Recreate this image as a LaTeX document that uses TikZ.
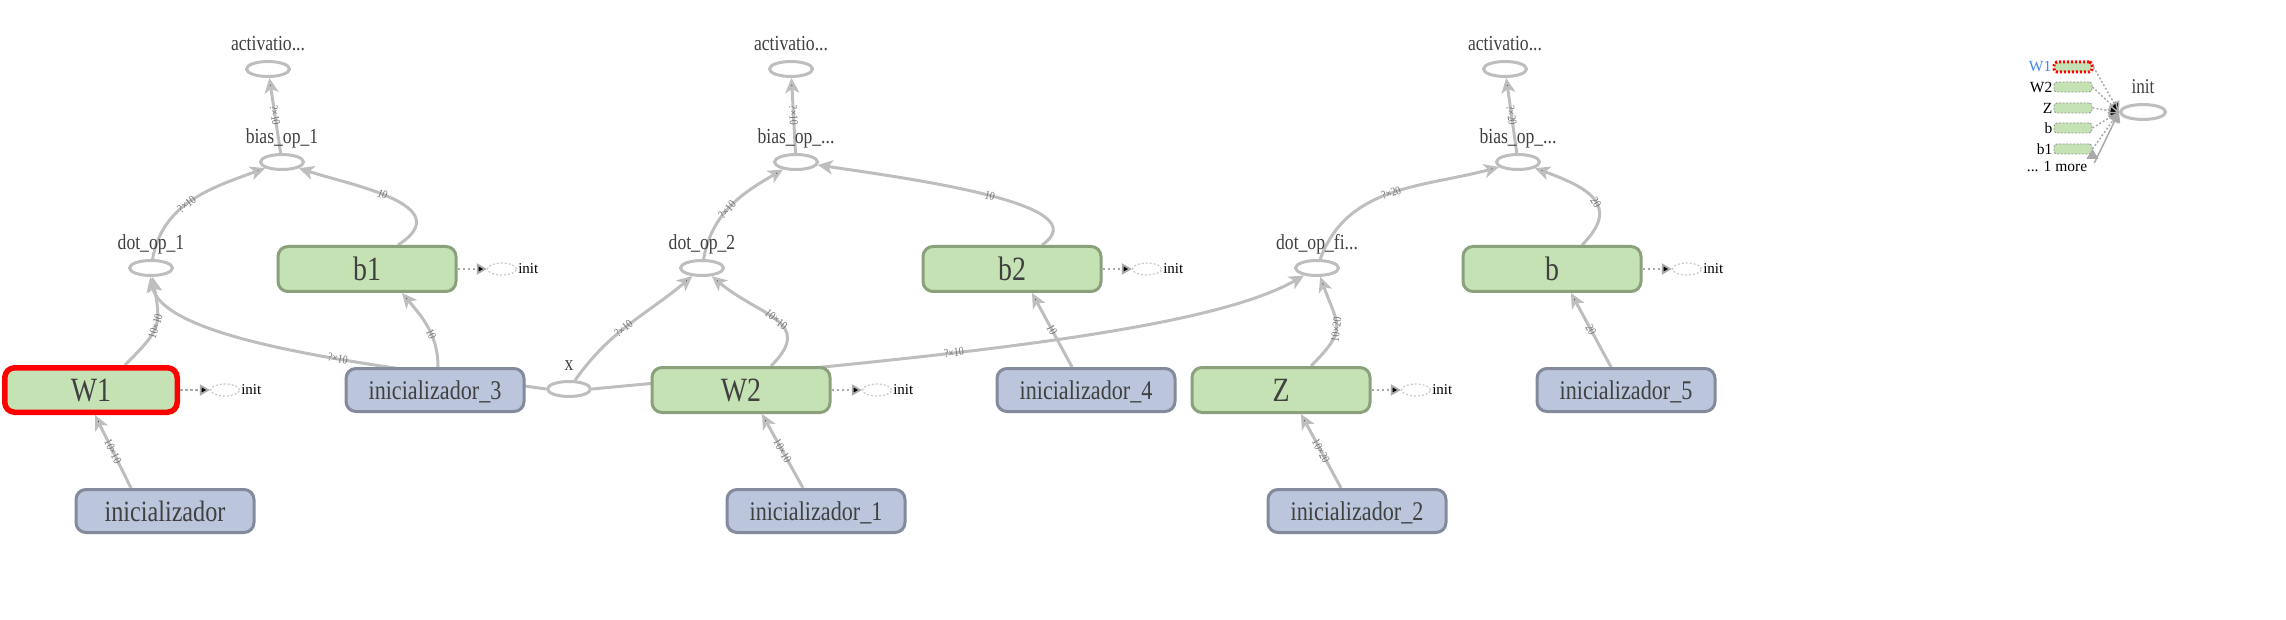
\documentclass[tikz,border=0pt]{standalone}
\usepackage{fontspec}
\setmainfont{Liberation Serif}[FakeStretch=0.82]
\newfontfamily\plainserif{Liberation Serif}
\usetikzlibrary{shapes.geometric,arrows.meta}

\definecolor{edgegray}{RGB}{190,190,190}
\definecolor{txtgray}{RGB}{64,64,64}
\definecolor{varfill}{RGB}{197,226,181}
\definecolor{varline}{RGB}{138,161,124}
\definecolor{inifill}{RGB}{187,198,221}
\definecolor{iniline}{RGB}{130,138,155}
\definecolor{initgray}{RGB}{170,170,170}
\definecolor{dashgray}{RGB}{200,200,200}
\definecolor{legdash}{RGB}{150,150,150}
\definecolor{lblgray}{RGB}{115,115,115}
\definecolor{linkblue}{RGB}{66,133,244}

\pgfdeclarelayer{bg}
\pgfsetlayers{bg,main}

\tikzset{
  opnode/.style={shape=ellipse, draw=edgegray, line width=3pt, fill=white,
    minimum width=43pt, minimum height=15pt, inner sep=0pt, label distance=0pt},
  oplabel/.style={text=txtgray, font=\fontsize{21.5}{21.5}\selectfont, inner sep=1pt, text depth=8pt},
  varnode/.style={shape=rectangle, rounded corners=10pt, draw=varline, fill=varfill, line width=3pt,
    minimum width=178pt, minimum height=45pt, text=txtgray, text depth=0pt,
    font=\fontsize{34}{34}\selectfont},
  ininode/.style={shape=rectangle, rounded corners=10pt, draw=iniline, fill=inifill, line width=3pt,
    minimum width=178pt, minimum height=43pt, text=txtgray, text depth=0pt,
    font=\fontsize{27}{27}\selectfont},
  initnode/.style={shape=ellipse, draw=dashgray, line width=1.2pt, dash pattern=on 2pt off 2pt,
    minimum width=29pt, minimum height=12pt, inner sep=0pt, label distance=3pt},
  initlabel/.style={font=\plainserif\fontsize{15}{15}\selectfont, text=black, inner sep=1pt},
  initlink/.style={draw=initgray, line width=1.8pt, dash pattern=on 2.5pt off 2.5pt,
    -{Triangle[length=10pt,width=11pt]}},
  flow/.style={draw=edgegray, line width=3pt, -{Stealth[length=15pt,width=14pt,inset=4pt]}},
  elabel/.style={sloped, text=lblgray, font=\fontsize{12}{12}\selectfont, inner sep=0pt},
  legbox/.style={shape=rectangle, rounded corners=3pt, fill=varfill, draw=legdash, line width=0.9pt,
    dash pattern=on 2pt off 1.5pt, minimum width=38pt, minimum height=10pt, inner sep=0pt,
    label distance=3pt},
  legtext/.style={font=\plainserif\fontsize{15.5}{15.5}\selectfont, text=black, inner sep=1pt},
  legdot/.style={draw=initgray, line width=1.5pt, dash pattern=on 2pt off 2pt,
    -{Triangle[length=10pt,width=12pt]}},
}

\begin{document}
\begin{tikzpicture}[x=1pt,y=1pt]
\useasboundingbox (0,0) rectangle (2286,-620);

% operations
\node[opnode, label={[oplabel]above:activatio...}] (act1) at (268,-69) {};
\node[opnode, label={[oplabel]above:bias\_op\_1}] (bias1) at (282,-162) {};
\node[opnode, label={[oplabel]above:dot\_op\_1}] (dot1) at (151,-268) {};
\node[opnode, label={[oplabel]above:activatio...}] (act2) at (791,-69) {};
\node[opnode, label={[oplabel]above:bias\_op\_...}] (bias2) at (796,-162) {};
\node[opnode, label={[oplabel]above:dot\_op\_2}] (dot2) at (702,-268) {};
\node[opnode, label={[oplabel]above:activatio...}] (act3) at (1505,-69) {};
\node[opnode, label={[oplabel]above:bias\_op\_...}] (bias3) at (1518,-162) {};
\node[opnode, label={[oplabel]above:dot\_op\_fi...}] (dotfi) at (1317,-268) {};
\node[opnode, label={[oplabel]above:x}] (x) at (569,-389) {};

% variables
\node[varnode] (b1) at (367,-269) {b1};
\node[varnode] (b2) at (1012,-269) {b2};
\node[varnode] (b) at (1552,-269) {b};
\node[varnode, draw=red, line width=5.5pt, minimum width=172.5pt, minimum height=44.5pt] (W1) at (91,-390) {W1};
\node[varnode] (W2) at (741,-390) {W2};
\node[varnode] (Z) at (1281,-390) {Z};

% initializers
\node[ininode, font=\fontsize{29.5}{29.5}\selectfont] (ini) at (165,-511) {inicializador};
\node[ininode] (ini1) at (816,-511) {inicializador\_1};
\node[ininode] (ini2) at (1357,-511) {inicializador\_2};
\node[ininode] (ini3) at (435,-390) {inicializador\_3};
\node[ininode] (ini4) at (1086,-390) {inicializador\_4};
\node[ininode] (ini5) at (1626,-390) {inicializador\_5};

% init stubs
\node[initnode, label={[initlabel]right:init}] (iW1) at (225,-390) {};
\node[initnode, label={[initlabel]right:init}] (ib1) at (502,-269) {};
\node[initnode, label={[initlabel]right:init}] (iW2) at (877,-390) {};
\node[initnode, label={[initlabel]right:init}] (ib2) at (1147,-269) {};
\node[initnode, label={[initlabel]right:init}] (iZ) at (1416,-390) {};
\node[initnode, label={[initlabel]right:init}] (ib) at (1687,-269) {};

\path[initlink] (W1) edge (iW1)
  (b1) edge (ib1)
  (W2) edge (iW2)
  (b2) edge (ib2)
  (Z) edge (iZ)
  (b) edge (ib);

% legend
\node[legbox, draw=red, line width=3pt, dash pattern=on 2pt off 2pt,
  label={[legtext, text=linkblue]left:W1}] (lgW1) at (2073,-67) {};
\node[legbox, label={[legtext]left:W2}] (lgW2) at (2073,-87) {};
\node[legbox, label={[legtext]left:Z}] (lgZ) at (2073,-108) {};
\node[legbox, label={[legtext]left:b}] (lgb) at (2073,-128) {};
\node[legbox, label={[legtext]left:b1}] (lgb1) at (2073,-149) {};
\node[legtext] (lgmore) at (2057,-166) {... 1 more};
\node[opnode, minimum width=45pt, label={[oplabel, font=\fontsize{21}{21}\selectfont]above:init}] (lginit) at (2143,-112) {};

\path[legdot] (lgW1.east) edge (lginit.west)
  (lgW2.east) edge (lginit.west)
  (lgZ.east) edge (lginit.west)
  (lgb.east) edge (lginit.west)
  (lgb1.east) edge (lginit.west);
\draw[draw=initgray, line width=1.5pt, -{Triangle[length=10pt,width=12pt]}]
  ([xshift=6pt,yshift=3pt]lgmore.east) -- (lginit.west);

% data flow
\begin{pgfonlayer}{bg}
\path[flow]
  ([xshift=-34pt]ini.north) edge node[elabel]{10×10} ([xshift=4pt]W1.south)
  ([xshift=34pt]W1.north) edge[out=45,in=-80,looseness=1.4] node[elabel,pos=.5]{10×10} (dot1)
  (dot1) edge[out=80,in=200] node[elabel,pos=.45]{?×10} (bias1)
  (bias1) edge node[elabel]{?×10} (act1)
  ([xshift=3pt]ini3.north) edge[out=90,in=-50] node[elabel,pos=.4]{10} ([xshift=35pt]b1.south)
  (x) edge[out=55,in=220] node[elabel,pos=.45]{?×10} (dot2)
  ([xshift=30pt]W2.north) edge[out=45,in=-40,looseness=1.5] node[elabel,pos=.5]{10×10} (dot2)
  ([xshift=-13pt]ini1.north) edge node[elabel]{10×10} ([xshift=21pt]W2.south)
  (dot2) edge[out=80,in=210] node[elabel,pos=.45]{?×10} (bias2)
  (bias2) edge node[elabel]{?×10} (act2)
  ([xshift=-14pt]ini4.north) edge node[elabel]{10} ([xshift=20pt]b2.south)
  ([xshift=30pt]Z.north) edge[out=45,in=-70,looseness=1.5] node[elabel,pos=.45]{10×20} (dotfi)
  ([xshift=-16pt]ini2.north) edge node[elabel]{10×20} ([xshift=20pt]Z.south)
  (dotfi) edge[out=70,in=195] node[elabel,pos=.5]{?×20} (bias3)
  ([xshift=30pt]b.north) edge[out=45,in=-20,looseness=1.6] node[elabel,pos=.45]{20} (bias3)
  (bias3) edge node[elabel]{?×20} (act3)
  ([xshift=-15pt]ini5.north) edge node[elabel]{20} ([xshift=19pt]b.south);
\draw[flow] (x.west) .. controls (400,-368) and (165,-345) .. (dot1.-95) node[elabel,pos=.42]{?×10};
\draw[flow] ([xshift=31pt]b1.north) .. controls (460,-205) and (350,-185) .. (bias1.-20) node[elabel,pos=.55]{10};
\draw[flow] ([xshift=30pt]b2.north) .. controls (1100,-205) and (920,-180) .. (bias2.-8) node[elabel,pos=.5]{10};
\draw[flow] (x.east) .. controls (900,-360) and (1200,-335) .. (dotfi.210) node[elabel,pos=.41]{?×10};
\end{pgfonlayer}
\end{tikzpicture}
\end{document}
